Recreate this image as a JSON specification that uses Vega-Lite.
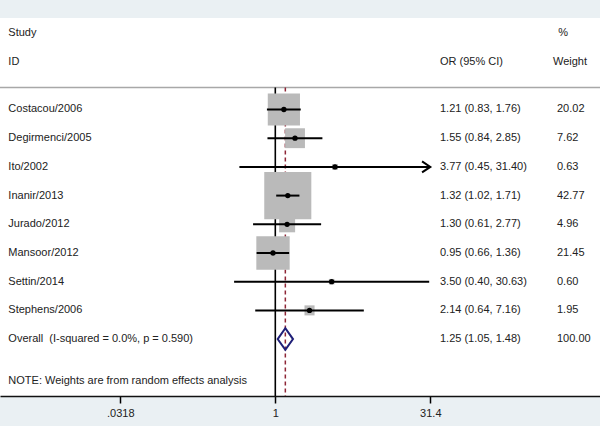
{
  "$schema": "https://vega.github.io/schema/vega-lite/v6.json",
  "width": 600,
  "height": 378,
  "autosize": {"type": "none"},
  "padding": {"top": 18, "bottom": 30, "left": 0, "right": 0},
  "background": "#eaf0f3",
  "config": {
    "view": {"stroke": null, "fill": "#ffffff"},
    "font": "Liberation Sans",
    "text": {"font": "Liberation Sans", "fontSize": 11, "color": "#222222", "align": "left", "baseline": "middle"}
  },
  "datasets": {
    "rows": [
      {"study": "Costacou/2006", "or": 1.21, "lo": 0.83, "hi": 1.76, "w": 20.02, "ci": "1.21 (0.83, 1.76)", "wt": "20.02", "row": 1, "kind": "study"},
      {"study": "Degirmenci/2005", "or": 1.55, "lo": 0.84, "hi": 2.85, "w": 7.62, "ci": "1.55 (0.84, 2.85)", "wt": "7.62", "row": 2, "kind": "study"},
      {"study": "Ito/2002", "or": 3.77, "lo": 0.45, "hi": 31.40, "w": 0.63, "ci": "3.77 (0.45, 31.40)", "wt": "0.63", "row": 3, "kind": "study"},
      {"study": "Inanir/2013", "or": 1.32, "lo": 1.02, "hi": 1.71, "w": 42.77, "ci": "1.32 (1.02, 1.71)", "wt": "42.77", "row": 4, "kind": "study"},
      {"study": "Jurado/2012", "or": 1.30, "lo": 0.61, "hi": 2.77, "w": 4.96, "ci": "1.30 (0.61, 2.77)", "wt": "4.96", "row": 5, "kind": "study"},
      {"study": "Mansoor/2012", "or": 0.95, "lo": 0.66, "hi": 1.36, "w": 21.45, "ci": "0.95 (0.66, 1.36)", "wt": "21.45", "row": 6, "kind": "study"},
      {"study": "Settin/2014", "or": 3.50, "lo": 0.40, "hi": 30.63, "w": 0.60, "ci": "3.50 (0.40, 30.63)", "wt": "0.60", "row": 7, "kind": "study"},
      {"study": "Stephens/2006", "or": 2.14, "lo": 0.64, "hi": 7.16, "w": 1.95, "ci": "2.14 (0.64, 7.16)", "wt": "1.95", "row": 8, "kind": "study"},
      {"study": "Overall\u00a0 (I-squared = 0.0%, p = 0.590)", "or": 1.25, "lo": 1.05, "hi": 1.48, "w": 100, "ci": "1.25 (1.05, 1.48)", "wt": "100.00", "row": 9, "kind": "overall"}
    ],
    "one": [{}]
  },
  "layer": [
    {
      "data": {"name": "one"},
      "mark": {"type": "rule", "color": "#a8a8a8", "strokeWidth": 1.5},
      "encoding": {
        "y": {"datum": 0.233, "type": "quantitative", "scale": {"domain": [-2.188, 10.983], "reverse": true, "nice": false, "zero": false}, "axis": null}
      }
    },
    {
      "data": {"name": "one"},
      "mark": {"type": "rule", "color": "#000000", "strokeWidth": 1.6},
      "encoding": {
        "x": {"datum": 1, "type": "quantitative", "scale": {"type": "log", "domain": [0.002194, 1367], "nice": false},
              "axis": {"values": [0.0318, 1, 31.4], "labelExpr": "datum.value < 0.05 ? '.0318' : (datum.value > 10 ? '31.4' : '1')", "title": null, "grid": false, "tickSize": 7, "tickWidth": 1.5, "tickColor": "#000000", "domainColor": "#111111", "domainWidth": 1.5, "labelFont": "Liberation Sans", "labelFontSize": 11, "labelColor": "#222222", "labelPadding": 4}},
        "y": {"datum": 0.233, "type": "quantitative", "scale": {"domain": [-2.188, 10.983], "reverse": true, "nice": false, "zero": false}, "axis": null},
        "y2": {"datum": 10.983}
      }
    },
    {
      "data": {"name": "rows"},
      "transform": [{"filter": "datum.kind == 'overall'"}],
      "mark": {"type": "rule", "color": "#8e2636", "strokeWidth": 1.5, "strokeDash": [4, 3]},
      "encoding": {
        "x": {"field": "or", "type": "quantitative", "scale": {"type": "log", "domain": [0.002194, 1367], "nice": false}},
        "y": {"datum": 0.233, "type": "quantitative", "scale": {"domain": [-2.188, 10.983], "reverse": true, "nice": false, "zero": false}, "axis": null},
        "y2": {"datum": 10.983}
      }
    },
    {
      "data": {"name": "rows"},
      "transform": [{"filter": "datum.kind == 'study'"}],
      "mark": {"type": "point", "shape": "square", "filled": true, "color": "#bababa", "opacity": 1, "strokeWidth": 0},
      "encoding": {
        "x": {"field": "or", "type": "quantitative", "scale": {"type": "log", "domain": [0.002194, 1367], "nice": false}},
        "y": {"field": "row", "type": "quantitative", "scale": {"domain": [-2.188, 10.983], "reverse": true, "nice": false, "zero": false}, "axis": null},
        "size": {"field": "w", "type": "quantitative", "scale": {"type": "linear", "domain": [0, 100], "range": [0, 5180]}, "legend": null}
      }
    },
    {
      "data": {"name": "rows"},
      "transform": [{"filter": "datum.kind == 'study'"}],
      "mark": {"type": "rule", "color": "#000000", "strokeWidth": 2},
      "encoding": {
        "x": {"field": "lo", "type": "quantitative", "scale": {"type": "log", "domain": [0.002194, 1367], "nice": false}},
        "x2": {"field": "hi"},
        "y": {"field": "row", "type": "quantitative", "scale": {"domain": [-2.188, 10.983], "reverse": true, "nice": false, "zero": false}, "axis": null}
      }
    },
    {
      "data": {"name": "rows"},
      "transform": [{"filter": "datum.kind == 'study'"}],
      "mark": {"type": "point", "shape": "circle", "filled": true, "color": "#000000", "size": 28, "opacity": 1},
      "encoding": {
        "x": {"field": "or", "type": "quantitative", "scale": {"type": "log", "domain": [0.002194, 1367], "nice": false}},
        "y": {"field": "row", "type": "quantitative", "scale": {"domain": [-2.188, 10.983], "reverse": true, "nice": false, "zero": false}, "axis": null}
      }
    },
    {
      "data": {"name": "rows"},
      "transform": [{"filter": "datum.study == 'Ito/2002'"}],
      "mark": {"type": "point", "shape": "M -1.5 -1 L 0 0 L -1.5 1", "filled": false, "color": "#000000", "strokeWidth": 2, "size": 121, "opacity": 1},
      "encoding": {
        "x": {"field": "hi", "type": "quantitative", "scale": {"type": "log", "domain": [0.002194, 1367], "nice": false}},
        "y": {"field": "row", "type": "quantitative", "scale": {"domain": [-2.188, 10.983], "reverse": true, "nice": false, "zero": false}, "axis": null}
      }
    },
    {
      "data": {"name": "rows"},
      "transform": [{"filter": "datum.kind == 'overall'"}],
      "mark": {"type": "point", "shape": "M -0.71 0 L 0 -1 L 0.71 0 L 0 1 Z", "filled": false, "color": "#1f1f78", "strokeWidth": 2, "size": 466, "opacity": 1},
      "encoding": {
        "x": {"field": "or", "type": "quantitative", "scale": {"type": "log", "domain": [0.002194, 1367], "nice": false}},
        "y": {"field": "row", "type": "quantitative", "scale": {"domain": [-2.188, 10.983], "reverse": true, "nice": false, "zero": false}, "axis": null}
      }
    },
    {
      "data": {"name": "rows"},
      "mark": {"type": "text"},
      "encoding": {
        "x": {"datum": 0.002641, "type": "quantitative", "scale": {"type": "log", "domain": [0.002194, 1367], "nice": false}},
        "y": {"field": "row", "type": "quantitative", "scale": {"domain": [-2.188, 10.983], "reverse": true, "nice": false, "zero": false}, "axis": null},
        "text": {"field": "study"}
      }
    },
    {
      "data": {"name": "rows"},
      "mark": {"type": "text"},
      "encoding": {
        "x": {"datum": 38.95, "type": "quantitative", "scale": {"type": "log", "domain": [0.002194, 1367], "nice": false}},
        "y": {"field": "row", "type": "quantitative", "scale": {"domain": [-2.188, 10.983], "reverse": true, "nice": false, "zero": false}, "axis": null},
        "text": {"field": "ci"}
      }
    },
    {
      "data": {"name": "rows"},
      "mark": {"type": "text"},
      "encoding": {
        "x": {"datum": 525.3, "type": "quantitative", "scale": {"type": "log", "domain": [0.002194, 1367], "nice": false}},
        "y": {"field": "row", "type": "quantitative", "scale": {"domain": [-2.188, 10.983], "reverse": true, "nice": false, "zero": false}, "axis": null},
        "text": {"field": "wt"}
      }
    },
    {
      "data": {"name": "one"},
      "mark": {"type": "text"},
      "encoding": {
        "x": {"datum": 0.002641, "type": "quantitative", "scale": {"type": "log", "domain": [0.002194, 1367], "nice": false}},
        "y": {"datum": -1.655, "type": "quantitative", "scale": {"domain": [-2.188, 10.983], "reverse": true, "nice": false, "zero": false}, "axis": null},
        "text": {"value": "Study"}
      }
    },
    {
      "data": {"name": "one"},
      "mark": {"type": "text"},
      "encoding": {
        "x": {"datum": 0.002641, "type": "quantitative", "scale": {"type": "log", "domain": [0.002194, 1367], "nice": false}},
        "y": {"datum": -0.666, "type": "quantitative", "scale": {"domain": [-2.188, 10.983], "reverse": true, "nice": false, "zero": false}, "axis": null},
        "text": {"value": "ID"}
      }
    },
    {
      "data": {"name": "one"},
      "mark": {"type": "text"},
      "encoding": {
        "x": {"datum": 38.95, "type": "quantitative", "scale": {"type": "log", "domain": [0.002194, 1367], "nice": false}},
        "y": {"datum": -0.666, "type": "quantitative", "scale": {"domain": [-2.188, 10.983], "reverse": true, "nice": false, "zero": false}, "axis": null},
        "text": {"value": "OR (95% CI)"}
      }
    },
    {
      "data": {"name": "one"},
      "mark": {"type": "text"},
      "encoding": {
        "x": {"datum": 540, "type": "quantitative", "scale": {"type": "log", "domain": [0.002194, 1367], "nice": false}},
        "y": {"datum": -1.655, "type": "quantitative", "scale": {"domain": [-2.188, 10.983], "reverse": true, "nice": false, "zero": false}, "axis": null},
        "text": {"value": "%"}
      }
    },
    {
      "data": {"name": "one"},
      "mark": {"type": "text"},
      "encoding": {
        "x": {"datum": 480.7, "type": "quantitative", "scale": {"type": "log", "domain": [0.002194, 1367], "nice": false}},
        "y": {"datum": -0.666, "type": "quantitative", "scale": {"domain": [-2.188, 10.983], "reverse": true, "nice": false, "zero": false}, "axis": null},
        "text": {"value": "Weight"}
      }
    },
    {
      "data": {"name": "one"},
      "mark": {"type": "text"},
      "encoding": {
        "x": {"datum": 0.002641, "type": "quantitative", "scale": {"type": "log", "domain": [0.002194, 1367], "nice": false}},
        "y": {"datum": 10.477, "type": "quantitative", "scale": {"domain": [-2.188, 10.983], "reverse": true, "nice": false, "zero": false}, "axis": null},
        "text": {"value": "NOTE: Weights are from random effects analysis"}
      }
    }
  ]
}
